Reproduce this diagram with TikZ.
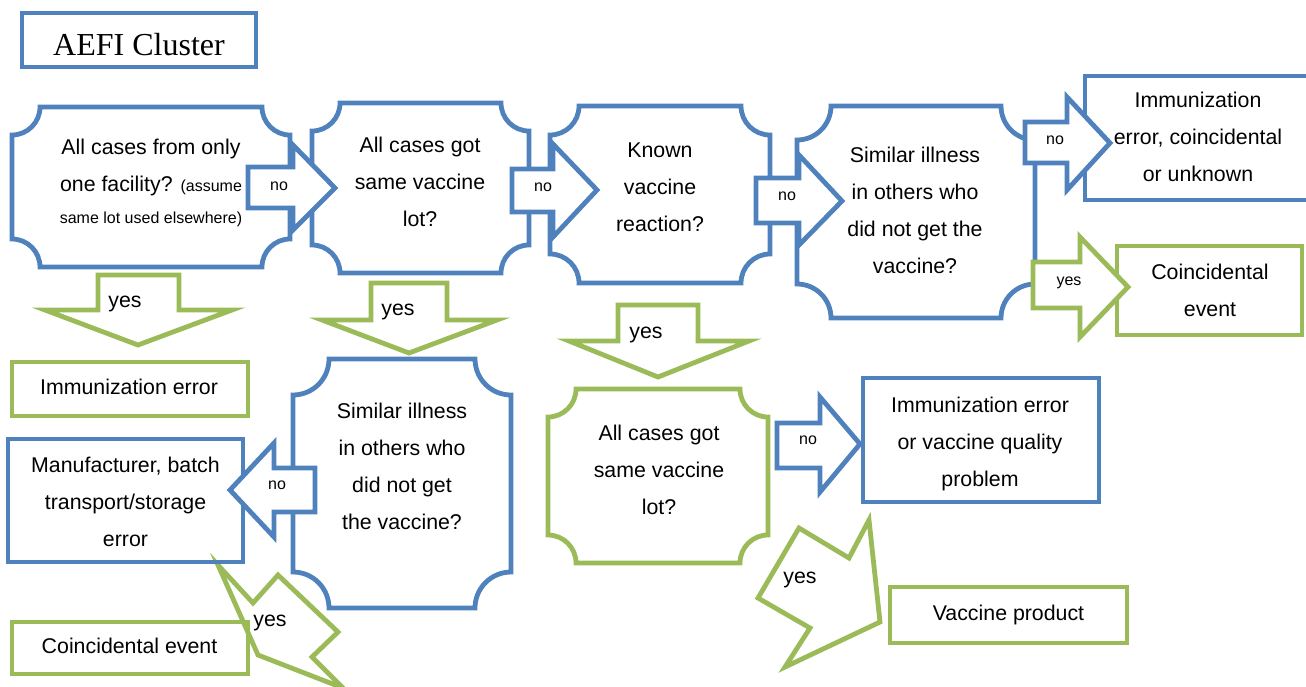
\documentclass[tikz,border=0pt]{standalone}
\usepackage{fontspec}
\setmainfont{Liberation Sans}
\newfontfamily\titlefont{Liberation Serif}
\definecolor{aefiblue}{HTML}{4F81BD}
\definecolor{aefigreen}{HTML}{9BBB59}

% Decision box: rectangle with concave (cut-out) quarter-circle corners.
% #1 style, #2 x1, #3 y1 (top), #4 x2, #5 y2 (bottom), #6 corner radius
\newcommand{\plaque}[6]{%
  \draw[#1] ({#2+#6},#3) -- ({#4-#6},#3)
    .. controls ({#4-#6},{#3+0.5523*#6}) and ({#4-0.5523*#6},{#3+#6}) .. (#4,{#3+#6})
    -- (#4,{#5-#6})
    .. controls ({#4-0.5523*#6},{#5-#6}) and ({#4-#6},{#5-0.5523*#6}) .. ({#4-#6},#5)
    -- ({#2+#6},#5)
    .. controls ({#2+#6},{#5-0.5523*#6}) and ({#2+0.5523*#6},{#5-#6}) .. (#2,{#5-#6})
    -- (#2,{#3+#6})
    .. controls ({#2+0.5523*#6},{#3+#6}) and ({#2+#6},{#3+0.5523*#6}) .. ({#2+#6},#3)
    -- cycle;}

\begin{document}
\begin{tikzpicture}[x=0.75pt,y=-0.75pt,
  bluebox/.style={draw=aefiblue,line width=3.6pt},
  greenbox/.style={draw=aefigreen,line width=3.6pt},
  bluearrow/.style={draw=aefiblue,line width=3.6pt,fill=white},
  greenarrow/.style={draw=aefigreen,line width=3.6pt,fill=white},
  boxtext/.style={align=center,inner sep=0pt,font=\fontsize{16}{27.75}\selectfont,
    execute at begin node=\strut,execute at end node=\strut},
  tag/.style={inner sep=0pt,text height=8.4pt,text depth=2.4pt,font=\fontsize{12}{14}\selectfont},
  bigtag/.style={inner sep=0pt,text height=11.2pt,text depth=3.2pt,font=\fontsize{16}{19}\selectfont},
]
\useasboundingbox (0,0) rectangle (1306,686);
\clip (0,0) rectangle (1306,686);

% title
\draw[bluebox] (22,13) rectangle (256,67);
\node[inner sep=0pt,font=\titlefont\fontsize{24}{28}\selectfont] (title) at (139,44.5) {AEFI Cluster};

% slanted "yes" arrows (drawn below the boxes)
\draw[greenarrow] (218,565) -- (253,603) -- (278,575) -- (338,632) -- (312,657) -- (343,688) -- (258,655) -- cycle;
\draw[greenarrow] (799,528) -- (849,558) -- (869,520) -- (880,622) -- (785,667) -- (810,628) -- (758,598) -- cycle;

% decision boxes
\plaque{bluebox}{12}{107}{290}{267}{28}
\plaque{bluebox}{312}{103}{529}{273}{28}
\plaque{bluebox}{550}{106}{770}{283}{29}
\plaque{bluebox}{797}{106}{1035}{318}{34}
\plaque{bluebox}{293}{359}{511}{608}{36}
\plaque{greenbox}{548}{389}{768}{563}{28}

% outcome boxes
\draw[bluebox]  (1085,76) rectangle (1320,200);
\draw[greenbox] (1117,246) rectangle (1302,335);
\draw[greenbox] (12,362) rectangle (248,416);
\draw[bluebox]  (8,439) rectangle (243,562);
\draw[greenbox] (12,622) rectangle (248,674);
\draw[bluebox]  (863,378) rectangle (1099,502);
\draw[greenbox] (890,587) rectangle (1127,643);

% "no" block arrows
\draw[bluearrow] (248,167) -- (293,167) -- (293,145) -- (335,188) -- (293,230) -- (293,208) -- (248,208) -- cycle;
\draw[bluearrow] (512,169) -- (553,169) -- (553,144) -- (597,190) -- (553,237) -- (553,212) -- (512,212) -- cycle;
\draw[bluearrow] (756,178) -- (799,178) -- (799,155) -- (842,201) -- (799,245) -- (799,223) -- (756,223) -- cycle;
\draw[bluearrow] (1025,122) -- (1067,122) -- (1067,97) -- (1110,143) -- (1067,190) -- (1067,163) -- (1025,163) -- cycle;
\draw[bluearrow] (315,468) -- (274,468) -- (274,443) -- (230,490) -- (274,537) -- (274,512) -- (315,512) -- cycle;
\draw[bluearrow] (777,423) -- (820,423) -- (820,397) -- (860,444) -- (820,492) -- (820,468) -- (777,468) -- cycle;

% "yes" block arrows
\draw[greenarrow] (1033,262) -- (1080,262) -- (1080,237) -- (1128,287) -- (1080,337) -- (1080,308) -- (1033,308) -- cycle;
\draw[greenarrow] (98,275) -- (179,275) -- (179,310) -- (232,310) -- (138,345) -- (45,310) -- (98,310) -- cycle;
\draw[greenarrow] (371,283) -- (447,283) -- (447,320) -- (497,320) -- (409,353) -- (322,320) -- (371,320) -- cycle;
\draw[greenarrow] (618,305) -- (698,305) -- (698,341) -- (749,341) -- (658,377) -- (569,341) -- (618,341) -- cycle;

% box texts
\node[boxtext] (q1) at (151,186.5) {All cases from only\\one facility? {\fontsize{12}{27.75}\selectfont(assume}\\[-4pt]{\fontsize{12}{27.75}\selectfont same lot used elsewhere)}};
\node[boxtext] (q2) at (420,187) {All cases got\\same vaccine\\lot?};
\node[boxtext] (q3) at (660,193) {Known\\vaccine\\reaction?};
\node[boxtext] (q4) at (915,215.5) {Similar illness\\in others who\\did not get the\\vaccine?};
\node[boxtext] (q5) at (402,471.5) {Similar illness\\in others who\\did not get\\the vaccine?};
\node[boxtext] (q6) at (659,475) {All cases got\\same vaccine\\lot?};

\node[boxtext] (r1) at (1198,142.5) {Immunization\\error, coincidental\\or unknown};
\node[boxtext] (r2) at (1210,295.5) {Coincidental\\event};
\node[boxtext] (r3) at (129,387) {Immunization error};
\node[boxtext] (r4) at (125.5,507) {Manufacturer, batch\\transport/storage\\error};
\node[boxtext] (r5) at (129.5,646) {Coincidental event};
\node[boxtext] (r6) at (980,447) {Immunization error\\or vaccine quality\\problem};
\node[boxtext] (r7) at (1008.5,613) {Vaccine product};

% arrow labels
\node[tag] (n1) at (279,186) {no};
\node[tag] (n2) at (543,187) {no};
\node[tag] (n3) at (787,196) {no};
\node[tag] (n4) at (1055,140) {no};
\node[tag] (n5) at (277,485) {no};
\node[tag] (n6) at (808,440) {no};
\node[tag] (y1) at (1069,281) {yes};
\node[bigtag] (y2) at (125,302) {yes};
\node[bigtag] (y3) at (398,310) {yes};
\node[bigtag] (y4) at (646,333) {yes};
\node[bigtag] (y5) at (270,621) {yes};
\node[bigtag] (y6) at (800,578) {yes};
\end{tikzpicture}
\end{document}
